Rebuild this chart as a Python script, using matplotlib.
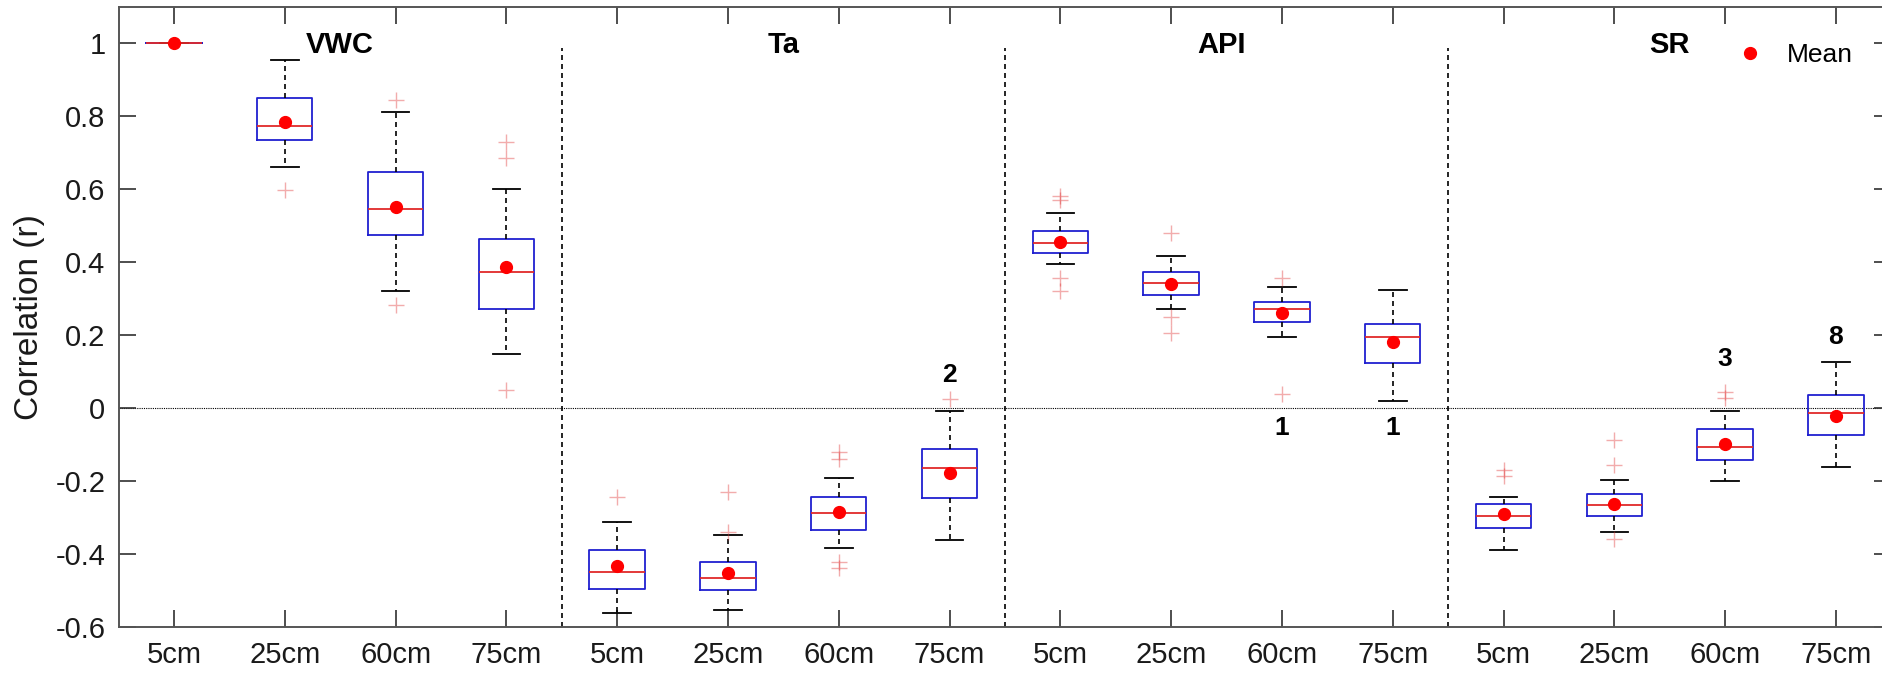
import matplotlib
matplotlib.use("Agg")
import matplotlib.pyplot as plt
from matplotlib.lines import Line2D

plt.rcParams['font.family'] = ['Liberation Sans', 'DejaVu Sans']
plt.rcParams['axes.unicode_minus'] = False

# ---------------- data ----------------
groups = ["VWC", "Ta", "API", "SR"]
depths = ["5cm", "25cm", "60cm", "75cm"]
tick_labels = depths * 4

whis_lo = [1.000, 0.662, 0.322, 0.148,
           -0.560, -0.554, -0.384, -0.362,
           0.396, 0.271, 0.196, 0.021,
           -0.389, -0.338, -0.200, -0.162]
q1 = [1.000, 0.736, 0.475, 0.271,
      -0.495, -0.498, -0.334, -0.247,
      0.426, 0.310, 0.237, 0.125,
      -0.327, -0.294, -0.142, -0.073]
median = [1.000, 0.773, 0.547, 0.374,
          -0.448, -0.466, -0.286, -0.164,
          0.452, 0.343, 0.272, 0.194,
          -0.294, -0.265, -0.105, -0.014]
q3 = [1.000, 0.851, 0.647, 0.464,
      -0.387, -0.421, -0.244, -0.111,
      0.486, 0.372, 0.290, 0.232,
      -0.262, -0.235, -0.058, 0.035]
whis_hi = [1.000, 0.954, 0.811, 0.600,
           -0.311, -0.347, -0.191, -0.007,
           0.534, 0.417, 0.332, 0.324,
           -0.244, -0.197, -0.007, 0.127]
mean = [1.000, 0.785, 0.552, 0.386,
        -0.432, -0.450, -0.285, -0.176,
        0.456, 0.341, 0.260, 0.182,
        -0.289, -0.261, -0.099, -0.021]
outliers = [[], [0.598], [0.845, 0.282], [0.730, 0.685, 0.050],
            [-0.244], [-0.230, -0.338], [-0.120, -0.138, -0.420, -0.437], [0.026],
            [0.582, 0.570, 0.356, 0.321], [0.479, 0.251, 0.205], [0.356, 0.040], [],
            [-0.168, -0.185], [-0.087, -0.156, -0.357], [0.044, 0.029], []]

count_pos = [8, 11, 12, 15, 16]
count_text = ["2", "1", "1", "3", "8"]
count_y = [0.091, -0.055, -0.055, 0.134, 0.195]

group_label_x = [2.5, 6.5, 10.45, 14.5]
separators = [4.5, 8.5, 12.5]

# ---------------- figure ----------------
W, H = 1883, 675
fig = plt.figure(figsize=(W / 100, H / 100), dpi=100)
ax = fig.add_axes([118.6 / W, 0.0707, 1772.8 / W, 0.9193])

stats = []
for i in range(16):
    stats.append(dict(whislo=whis_lo[i], q1=q1[i], med=median[i], q3=q3[i],
                      whishi=whis_hi[i], mean=mean[i], fliers=outliers[i]))

positions = list(range(1, 17))
ax.bxp(stats, positions=positions, widths=0.5, capwidths=0.25,
       showmeans=True, manage_ticks=False,
       boxprops=dict(color='#2020d0', linewidth=1.3),
       medianprops=dict(color='#e02a2a', linewidth=1.3),
       whiskerprops=dict(color='black', linewidth=1.2, linestyle=(0, (3, 2.4))),
       capprops=dict(color='black', linewidth=1.3),
       flierprops=dict(marker='+', markeredgecolor='#e03030', markersize=11,
                       markeredgewidth=1.0, alpha=0.4, linestyle='none'),
       meanprops=dict(marker='o', markerfacecolor='#ff0000', markeredgecolor='#ff0000',
                      markersize=8.5))

# zero line and separators
ax.axhline(0, color='black', linewidth=0.8, linestyle=(0, (1, 1)), zorder=1)
ax.vlines(separators, -0.6, 0.987, colors='black', linewidth=1.2,
          linestyles=[(0, (3, 2.4))], zorder=1)

# group labels
for gx, g in zip(group_label_x, groups):
    ax.text(gx, 0.995, g, ha='center', va='center', fontsize=21, fontweight='bold')

# count labels
for px, t, py in zip(count_pos, count_text, count_y):
    ax.text(px, py, t, ha='center', va='center', fontsize=19, fontweight='bold')

# legend
mean_handle = Line2D([], [], marker='o', color='none', markerfacecolor='#ff0000',
                     markeredgecolor='#ff0000', markersize=8.5)
ax.legend([mean_handle], ["Mean"], loc='center left', bbox_to_anchor=(0.9126, 0.922),
          frameon=False, fontsize=19, handlelength=1.0, handletextpad=0.9,
          borderpad=0, borderaxespad=0)

# axes styling
ax.set_xlim(0.5, 16.5)
ax.set_ylim(-0.6, 1.1)
ax.set_xticks(positions)
ax.set_xticklabels(tick_labels)
yt = [-0.6, -0.4, -0.2, 0, 0.2, 0.4, 0.6, 0.8, 1]
ax.set_yticks(yt)
ax.set_yticklabels(["%g" % v for v in yt])
ax.tick_params(direction='in', top=True, right=True, length=12, width=1.2,
               labelsize=21, colors='#303030', labelcolor='#1a1a1a')
ax.tick_params(axis='x', pad=10)
ax.tick_params(axis='y', pad=9.5)
for s in ax.spines.values():
    s.set_color('#555555')
    s.set_linewidth(1.4)

ax.set_ylabel("Correlation (r)", fontsize=24, va='center', color='#1a1a1a')
ax.yaxis.set_label_coords(-0.05, 0.5)

fig.savefig("out.png", dpi=100)
